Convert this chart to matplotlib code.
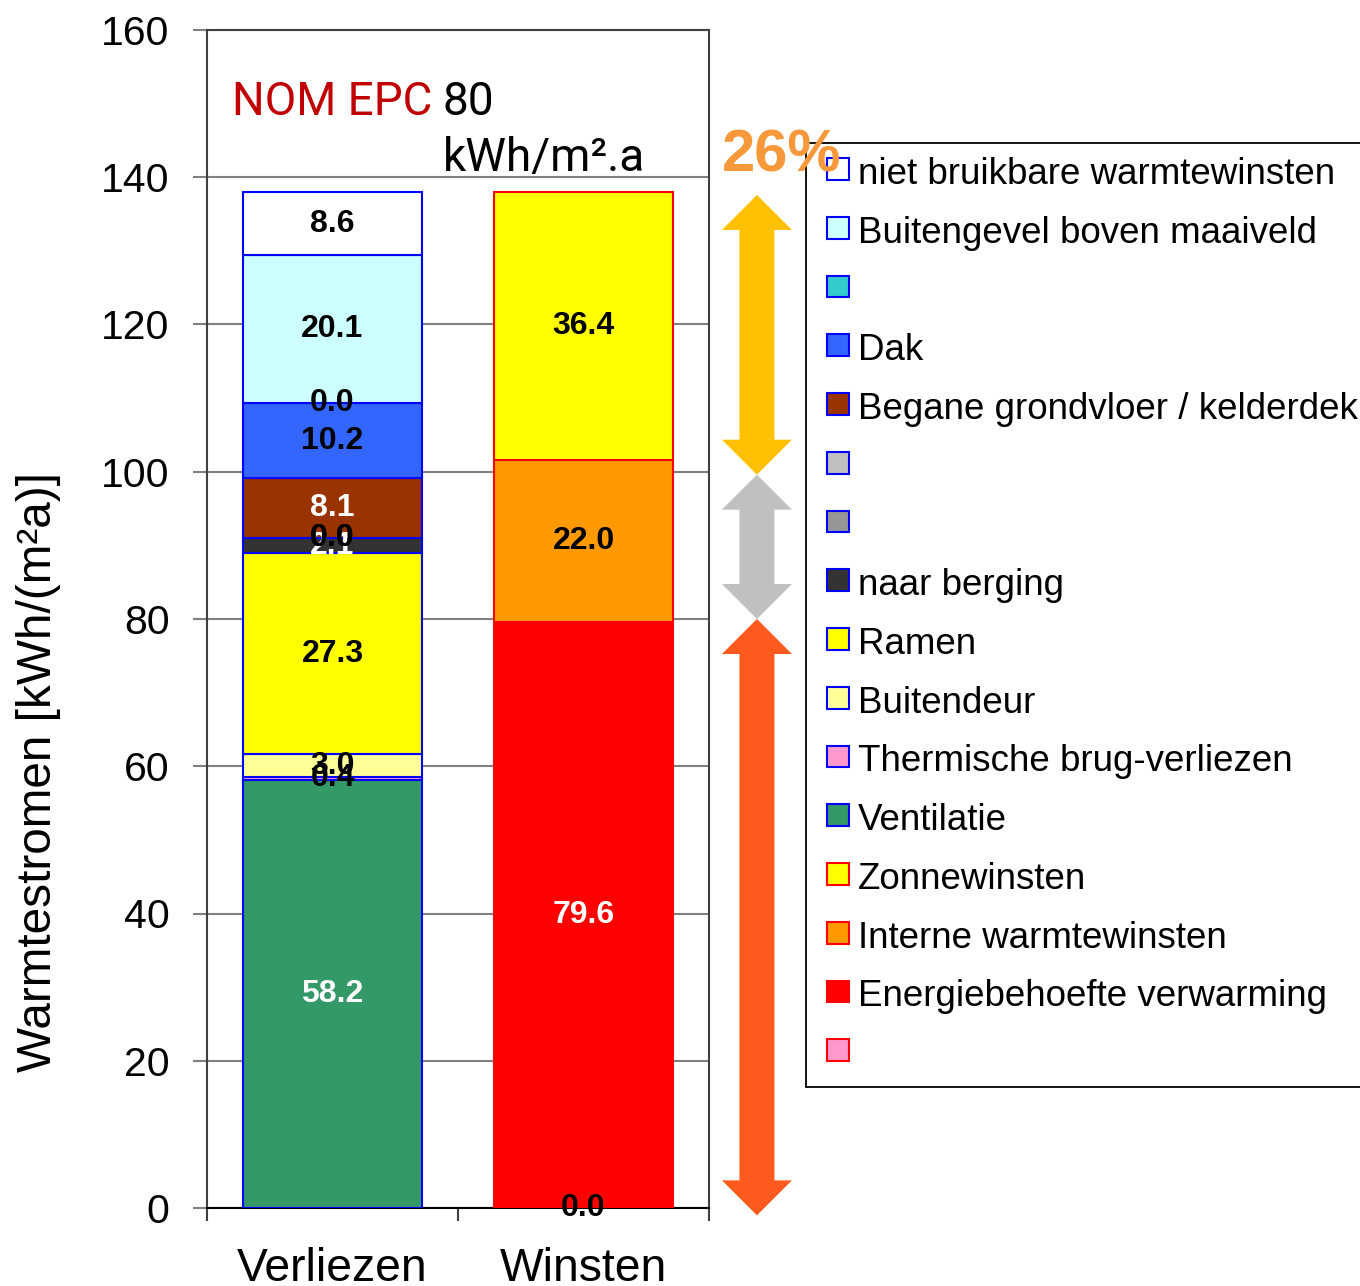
import matplotlib
matplotlib.use("Agg")
import matplotlib.pyplot as plt
from matplotlib.patches import FancyArrow, Rectangle
from matplotlib.container import BarContainer
from matplotlib.legend_handler import HandlerPatch, update_from_first_child

plt.rcParams['font.family'] = ['Liberation Sans', 'DejaVu Sans']

# ---------------- data ----------------
categories = ['Verliezen', 'Winsten']

# Verliezen stack (bottom -> top)
loss_names = ['Ventilatie', 'Thermische brug-verliezen', 'Buitendeur', 'Ramen',
              'naar berging', ' ', ' ', 'Begane grondvloer / kelderdek', 'Dak', ' ',
              'Buitengevel boven maaiveld', 'niet bruikbare warmtewinsten']
loss_values = [58.2, 0.4, 3.0, 27.3, 2.1, 0.0, 0.0, 8.1, 10.2, 0.0, 20.1, 8.6]
loss_colors = ['#339966', '#FF99CC', '#FFFF99', '#FFFF00', '#333333', '#969696',
               '#C0C0C0', '#993300', '#3366FF', '#33CCCC', '#CCFFFF', '#FFFFFF']
loss_label_colors = ['white', 'black', 'black', 'black', 'white', 'black',
                     'black', 'white', 'black', 'black', 'black', 'black']

# Winsten stack (bottom -> top)
gain_names = [' ', 'Energiebehoefte verwarming', 'Interne warmtewinsten', 'Zonnewinsten']
gain_values = [0.0, 79.6, 22.0, 36.4]
gain_colors = ['#FF99CC', '#FF0000', '#FF9900', '#FFFF00']
gain_label_colors = ['black', 'white', 'black', 'black']

yticks = [0, 20, 40, 60, 80, 100, 120, 140, 160]

# double arrows at the right: boundaries (bottom -> top) and colours
arrow_bounds = [-1.0, 80.0, 99.6, 137.6]
arrow_colors = ['#FF5A1E', '#C0C0C0', '#FFC000']

# ---------------- figure ----------------
W, H = 1360, 1286
fig = plt.figure(figsize=(W / 100, H / 100), dpi=100)
ax = fig.add_axes([207 / W, (H - 1208) / H, 502 / W, 1178 / H])

bar_w = 0.717
loss_handles, gain_handles = [], []

bottom = 0.0
for name, v, c, lc in zip(loss_names, loss_values, loss_colors, loss_label_colors):
    bc = ax.bar([0], [v], bottom=bottom, width=bar_w, color=c, edgecolor='#0000FF',
                linewidth=1.5, zorder=3)
    ax.bar_label(bc, labels=[f'{v:.1f}'], label_type='center', color=lc,
                 fontsize=23, fontweight='bold', zorder=5)
    loss_handles.append(bc)
    bottom += v

bottom = 0.0
for name, v, c, lc in zip(gain_names, gain_values, gain_colors, gain_label_colors):
    bc = ax.bar([1], [v], bottom=bottom, width=bar_w, color=c, edgecolor='#FF0000',
                linewidth=1.5, zorder=3)
    ax.bar_label(bc, labels=[f'{v:.1f}'], label_type='center', color=lc,
                 fontsize=23, fontweight='bold', zorder=5)
    gain_handles.append(bc)
    bottom += v

ax.set_xlim(-0.5, 1.5)
ax.set_ylim(0, 160)
ax.set_yticks(yticks)
ax.set_axisbelow(True)
ax.yaxis.grid(True, color='#808080', linewidth=1.5)
ax.tick_params(axis='y', length=10, width=1.5, color='#808080', pad=17, labelsize=29.5)
ax.set_xticks([0, 1])
ax.set_xticklabels(categories, fontsize=33.3)
ax.set_xticks([-0.5, 0.5, 1.5], minor=True)
ax.tick_params(axis='x', which='major', length=0, pad=28)
ax.tick_params(axis='x', which='minor', length=9, width=1.5, color='#404040')
for s in ax.spines.values():
    s.set_color('#404040'); s.set_linewidth(1.5)
ax.spines['bottom'].set_color('black')

ax.set_ylabel('Warmtestromen [kWh/(m²a)]', fontsize=34.4)
ax.yaxis.set_label_coords(-0.29, 0.37)

# title text inside plot
ax.text(-0.40, 148.5, 'NOM EPC', color='#C00000', fontsize=33, family='Roboto',
        va='baseline', ha='left')
ax.text(0.44, 148.5, '80', color='black', fontsize=33, family='Roboto',
        va='baseline', ha='left')
ax.text(0.44, 140.9, 'kWh/m².a', color='black', fontsize=33, family='Roboto',
        va='baseline', ha='left')

# arrows (one full arrow up + a head pointing down)
ax_x = 1.691
shaft = 35 / 251
head_w = 70 / 251
head_l = 35 / 7.3625
for lo, hi, col in zip(arrow_bounds[:-1], arrow_bounds[1:], arrow_colors):
    start = lo + 0.7 * head_l
    up = FancyArrow(ax_x, start, 0, hi - start, width=shaft, head_width=head_w,
                    head_length=head_l, length_includes_head=True,
                    color=col, linewidth=0, clip_on=False, zorder=4)
    down = FancyArrow(ax_x, lo + head_l, 0, -head_l, width=shaft, head_width=head_w,
                      head_length=head_l, length_includes_head=True,
                      color=col, linewidth=0, clip_on=False, zorder=4)
    ax.add_patch(up)
    ax.add_patch(down)


# legend: losses top->bottom, then gains top->bottom
def sq_patch(legend, orig_handle, xdescent, ydescent, width, height, fontsize):
    return Rectangle((-xdescent + width - height, -ydescent + 0.05 * fontsize),
                     height, height)


handles = loss_handles[::-1] + gain_handles[::-1]
labels = loss_names[::-1] + gain_names[::-1]
leg = fig.legend(handles, labels, loc='upper left',
                 bbox_to_anchor=(806 / W, 1 - 143 / H), borderaxespad=0,
                 fontsize=26.5, frameon=True, fancybox=False, edgecolor='black',
                 framealpha=1, handlelength=0.78, handleheight=0.53,
                 handletextpad=0.24, labelspacing=0.645, borderpad=0.38,
                 handler_map={BarContainer: HandlerPatch(patch_func=sq_patch,
                                                         update_func=update_from_first_child)})
leg.get_frame().set_linewidth(1.3)
leg.set_zorder(5)

fig.text(722 / W, 1 - 171 / H, '26%', color='#F7993A', fontsize=43,
         fontweight='bold', ha='left', va='baseline', zorder=10)

fig.savefig('out.png', dpi=100)
